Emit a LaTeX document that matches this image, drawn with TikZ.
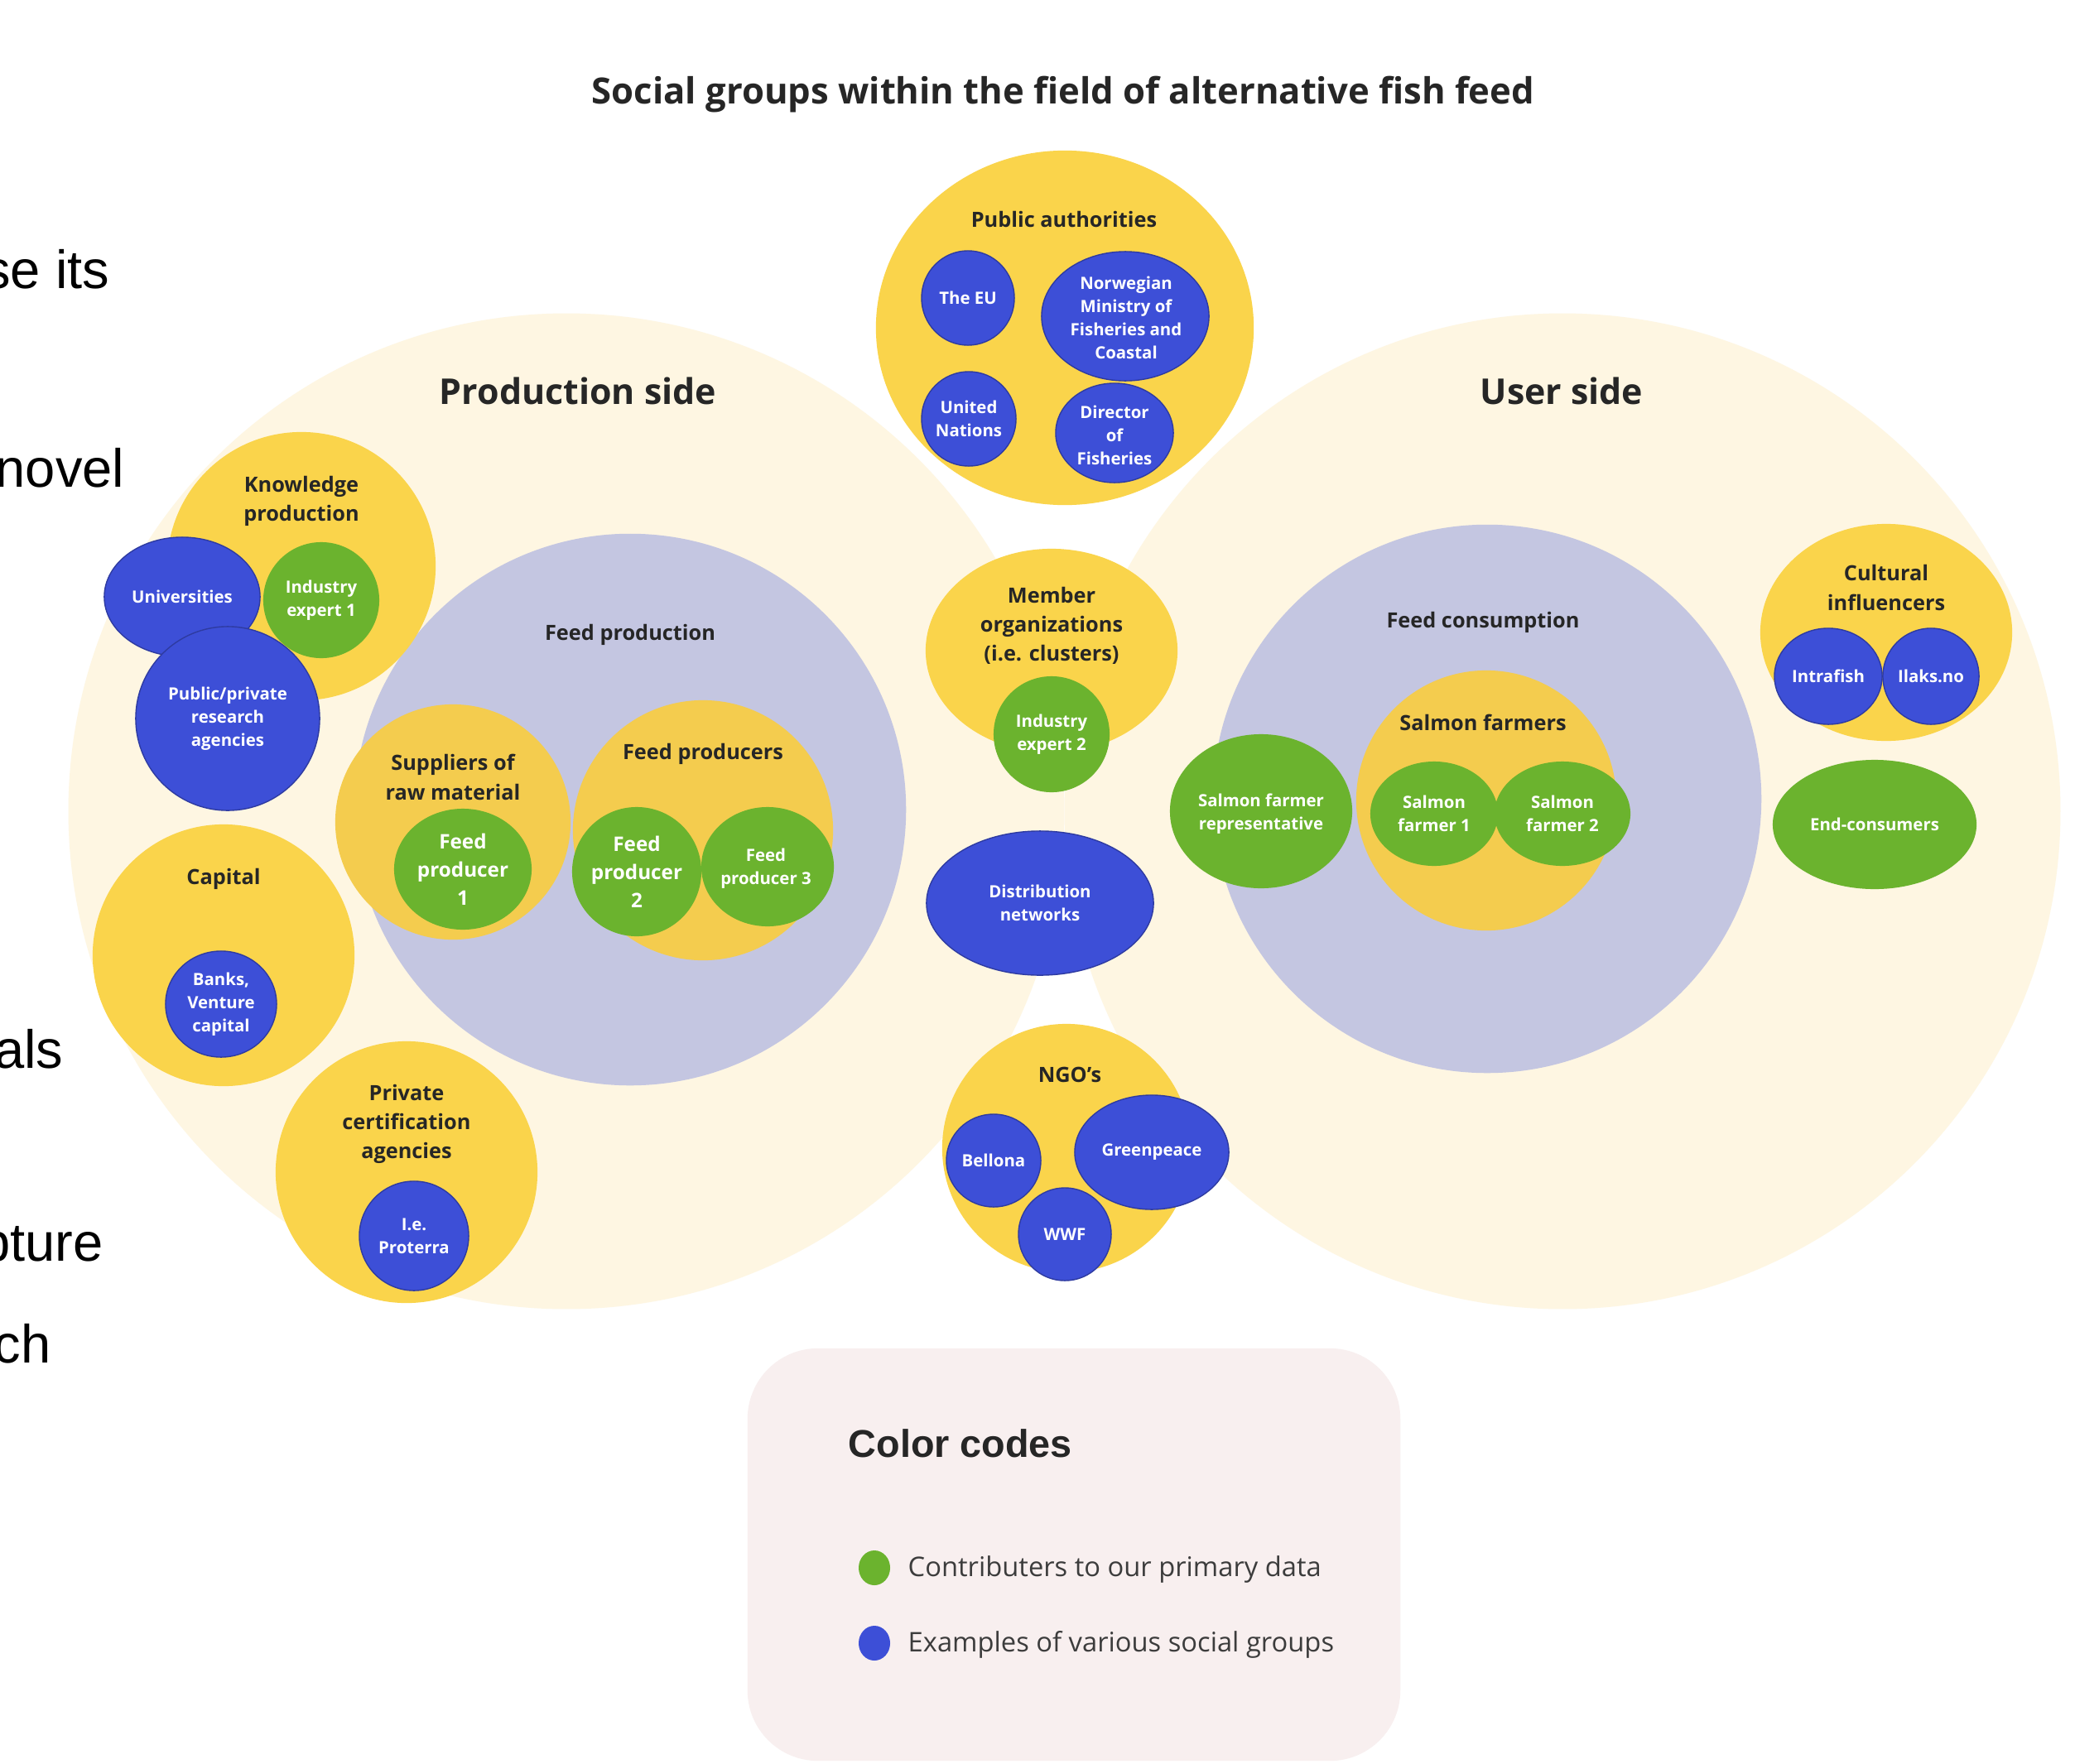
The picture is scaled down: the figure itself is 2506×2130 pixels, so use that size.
\documentclass[tikz,border=0pt]{standalone}
\usepackage{fontspec}
\setmainfont{Open Sans}
\newfontfamily\arialf{Liberation Sans}
\usetikzlibrary{shapes.geometric}
\definecolor{cream}{HTML}{FEF6E2}
\definecolor{cyel}{HTML}{FAD44B}
\definecolor{cyel2}{HTML}{F4CC4E}
\definecolor{lav}{HTML}{C4C6E1}
\definecolor{cblue}{HTML}{3D4FD7}
\definecolor{cgreen}{HTML}{6BB32E}
\definecolor{ink}{HTML}{262626}
\definecolor{legbg}{HTML}{F8EFEF}
\begin{document}
\begin{tikzpicture}[x=0.01cm,y=-0.01cm,
  sz/.style 2 args={minimum width=#1*0.02cm, minimum height=#2*0.02cm},
  blob/.style={ellipse, inner sep=0pt, outer sep=0pt, draw=none},
  bigc/.style={blob, fill=cream},
  lavc/.style={blob, fill=lav},
  yelc/.style={blob, fill=cyel},
  yelc2/.style={blob, fill=cyel2},
  bluec/.style={blob, fill=cblue, draw=cblue!75!black, line width=0.4pt},
  greenc/.style={blob, fill=cgreen},
  lab/.style={text=ink, font=\bfseries\fontsize{7.2}{10}\selectfont, align=center, inner sep=0pt},
  wlab/.style={text=white, font=\bfseries\fontsize{5.8}{7.9}\selectfont, align=center, inner sep=0pt},
  glab/.style={text=white, font=\bfseries\fontsize{6.9}{9.7}\selectfont, align=center, inner sep=0pt},
  sidelab/.style={text=ink, font=\bfseries\fontsize{12.2}{14}\selectfont, inner sep=0pt},
  frag/.style={font=\arialf\fontsize{18.5}{22}\selectfont, anchor=base east, inner sep=0pt, text=black},
  legtxt/.style={font=\fontsize{9.3}{11}\selectfont, text=ink!90, anchor=west, inner sep=0pt}
]
\fill[white] (0,0) rectangle (2506,2130);
\useasboundingbox (0,0) rectangle (2506,2130);
\clip (0,0) rectangle (2506,2130);

% slide fragments (cut at the left edge, as in the reference)
\node[frag] (f1) at (133,348) {se its};
\node[frag] (f2) at (151,588) {novel};
\node[frag] (f3) at (77,1290) {als};
\node[frag] (f4) at (125,1523) {pture};
\node[frag] (f5) at (62,1646) {ch};

% title
\node[text=ink, font=\bfseries\fontsize{12.4}{15}\selectfont, inner sep=0pt] (title) at (1284,114) {Social groups within the field of alternative fish feed};

% big side circles
\node[bigc, sz={601}{601}] (prod) at (684,980) {};
\node[bigc, sz={601}{601}] (user) at (1887,980) {};
\node[sidelab] (prodl) at (698,472) {Production side};
\node[sidelab] (userl) at (1886,472) {User side};

% lavender circles
\node[lavc, sz={333}{333}] (fprod) at (761,978) {};
\node[lab] (fprodl) at (761,767) {Feed production};
\node[lavc, sz={331}{331}] (fcons) at (1796,965) {};
\node[lab] (fconsl) at (1791,752) {Feed consumption};

% knowledge production
\node[yelc, sz={162}{162}] (know) at (364,684) {};
\node[lab] (knowl) at (364,605) {Knowledge\\production};
\node[bluec, sz={94}{72}] (univ) at (220,721) {};
\node[wlab] (univl) at (univ.center) {Universities};
\node[bluec, sz={111}{111}] (ppra) at (275,868) {};
\node[wlab] (ppral) at (ppra.center) {Public/private\\research\\agencies};
\node[greenc, sz={70}{70}] (ie1) at (388,725) {};
\node[wlab] (ie1l) at (ie1.center) {Industry\\expert 1};

% capital
\node[yelc, sz={158}{158}] (cap) at (270,1154) {};
\node[lab] (capl) at (270,1062) {Capital};
\node[bluec, sz={67}{64}] (bank) at (267,1213) {};
\node[wlab] (bankl) at (bank.center) {Banks,\\Venture\\capital};

% private certification
\node[yelc, sz={158}{158}] (cert) at (491,1416) {};
\node[lab] (certl) at (491,1358) {Private\\certification\\agencies};
\node[bluec, sz={66}{66}] (prot) at (500,1493) {};
\node[wlab] (protl) at (prot.center) {I.e.\\Proterra};

% suppliers / feed producers
\node[yelc2, sz={142}{142}] (supp) at (547,993) {};
\node[lab] (suppl) at (547,939) {Suppliers of\\raw material};
\node[greenc, sz={83}{73}] (fp1) at (559,1050) {};
\node[glab] (fp1l) at (fp1.center) {Feed\\producer\\1};
\node[yelc2, sz={157}{157}] (fpr) at (849,1003) {};
\node[lab] (fprl) at (849,911) {Feed producers};
\node[greenc, sz={78}{78}] (fp2) at (769,1053) {};
\node[glab] (fp2l) at (fp2.center) {Feed\\producer\\2};
\node[greenc, sz={80}{72}] (fp3) at (927,1047) {};
\node[wlab] (fp3l) at (925,1049) {Feed\\producer 3};

% public authorities
\node[yelc, sz={228}{214}] (pub) at (1286,396) {};
\node[lab] (publ) at (1285,265) {Public authorities};
\node[bluec, sz={56}{57}] (eu) at (1169,360) {};
\node[wlab] (eul) at (eu.center) {The EU};
\node[bluec, sz={101}{78}] (nor) at (1359,382) {};
\node[wlab] (norl) at (1360,384) {Norwegian\\Ministry of\\Fisheries and\\Coastal};
\node[bluec, sz={57}{57}] (un) at (1170,506) {};
\node[wlab] (unl) at (un.center) {United\\Nations};
\node[bluec, sz={71}{60}] (dir) at (1346,523) {};
\node[wlab] (dirl) at (1346,526) {Director\\of\\Fisheries};

% member organizations
\node[yelc, sz={152}{123}] (mem) at (1270,786) {};
\node[lab] (meml) at (1270,756) {Member\\organizations\\(i.e. clusters)};
\node[greenc, sz={70}{70}] (ie2) at (1270,887) {};
\node[wlab] (ie2l) at (ie2.center) {Industry\\expert 2};

% distribution networks
\node[bluec, sz={137}{87}] (dist) at (1256,1091) {};
\node[wlab] (distl) at (dist.center) {Distribution\\networks};

% NGOs
\node[yelc, sz={150}{150}] (ngo) at (1288,1387) {};
\node[lab] (ngol) at (1292,1298) {NGO's};
\node[bluec, sz={57}{56}] (bell) at (1200,1402) {};
\node[wlab] (belll) at (bell.center) {Bellona};
\node[bluec, sz={93}{69}] (green) at (1391,1392) {};
\node[wlab] (greenl) at (green.center) {Greenpeace};
\node[bluec, sz={56}{56}] (wwf) at (1286,1491) {};
\node[wlab] (wwfl) at (wwf.center) {WWF};

% salmon farmers
\node[yelc2, sz={157}{157}] (salm) at (1795,967) {};
\node[lab] (salml) at (1791,873) {Salmon farmers};
\node[greenc, sz={77}{63}] (sf1) at (1732,983) {};
\node[wlab] (sf1l) at (sf1.center) {Salmon\\farmer 1};
\node[greenc, sz={82}{63}] (sf2) at (1887,983) {};
\node[wlab] (sf2l) at (sf2.center) {Salmon\\farmer 2};
\node[greenc, sz={110}{93}] (rep) at (1523,980) {};
\node[wlab] (repl) at (1523,983) {Salmon farmer\\representative};

% cultural influencers
\node[yelc, sz={152}{131}] (cult) at (2278,764) {};
\node[lab] (cultl) at (2278,710) {Cultural\\influencers};
\node[bluec, sz={65}{58}] (intra) at (2208,817) {};
\node[wlab] (intral) at (intra.center) {Intrafish};
\node[bluec, sz={58}{58}] (ilaks) at (2332,817) {};
\node[wlab] (ilaksl) at (ilaks.center) {Ilaks.no};

% end consumers
\node[greenc, sz={123}{78}] (endc) at (2264,996) {};
\node[wlab] (endcl) at (endc.center) {End-consumers};

% legend
\node[fill=legbg, rounded corners=0.85cm, minimum width=7.88cm, minimum height=4.98cm, inner sep=0pt, outer sep=0pt] (legend) at (1297,1878) {};
\node[anchor=west, inner sep=0pt, text=ink, font=\arialf\bfseries\fontsize{13.3}{16}\selectfont] (legt) at (1024,1744) {Color codes};
\node[blob, fill=cgreen, sz={19}{21}] (dotg) at (1056,1894) {};
\node[legtxt] (lg1) at (1096,1896) {Contributers to our primary data};
\node[blob, fill=cblue, sz={19}{21}] (dotb) at (1056,1985) {};
\node[legtxt] (lg2) at (1096,1987) {Examples of various social groups};
\end{tikzpicture}
\end{document}
